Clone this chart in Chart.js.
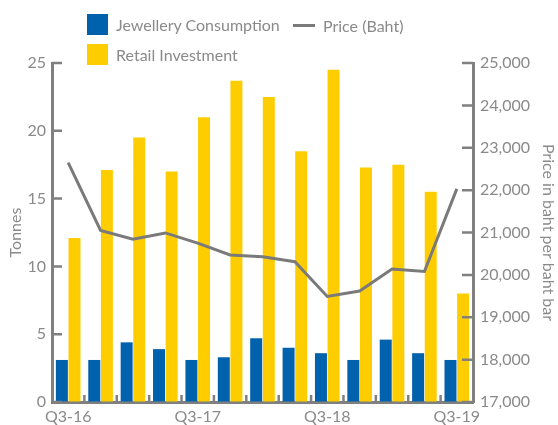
<!DOCTYPE html>
<html>
<head>
<title>Thailand gold demand</title>
<script src="https://cdn.jsdelivr.net/npm/chart.js"></script>
<style>
    body { margin: 0; background: #fff; }
    #wrap { position: relative; width: 558px; height: 425px; font-family: Lato, sans-serif; }
    #legend { position: absolute; left: 0; top: 0; width: 558px; height: 63px; color: #8a8a8a; font-size: 16px; }
    .item { position: absolute; display: flex; align-items: center; height: 22px; }
    .swatch { width: 21px; height: 21px; margin-right: 8px; }
    .dash { width: 22px; height: 3px; margin-right: 8px; }
</style>
</head>
<body>
<div id="wrap">
    <canvas id="myChart" width="558" height="425"></canvas>
    <div id="legend"></div>
</div>

<script>
var quarters = ['Q3-16', 'Q4-16', 'Q1-17', 'Q2-17', 'Q3-17', 'Q4-17', 'Q1-18', 'Q2-18', 'Q3-18', 'Q4-18', 'Q1-19', 'Q2-19', 'Q3-19'];
var jewellery = [3.1, 3.1, 4.4, 3.9, 3.1, 3.3, 4.7, 4.0, 3.6, 3.1, 4.6, 3.6, 3.1];
var retail = [12.1, 17.1, 19.5, 17.0, 21.0, 23.7, 22.5, 18.5, 24.5, 17.3, 17.5, 15.5, 8.0];
var price = [22650, 21050, 20840, 20990, 20750, 20470, 20430, 20310, 19490, 19620, 20140, 20080, 22030];

var blue = '#0062ad';
var yellow = '#fecd00';
var lineGrey = '#7a7a7a';
var axisGrey = '#808080';
var textGrey = '#8a8a8a';
var font = { family: 'Lato', size: 16 };

// short tick marks drawn inward from each axis
var innerTicks = {
    id: 'innerTicks',
    afterDraw: function(chart) {
        var ctx = chart.ctx;
        var area = chart.chartArea;
        var s = chart.scales;
        ctx.save();
        ctx.strokeStyle = axisGrey;
        ctx.lineWidth = 2.5;
        ctx.beginPath();
        s.y.ticks.forEach(function(t, i) {
            var y = s.y.getPixelForTick(i);
            ctx.moveTo(area.left, y);
            ctx.lineTo(area.left + 10, y);
        });
        s.y1.ticks.forEach(function(t, i) {
            var y = s.y1.getPixelForTick(i);
            ctx.moveTo(area.right, y);
            ctx.lineTo(area.right - 11, y);
        });
        for (var i = 1; i < quarters.length; i++) {
            var x = (s.x.getPixelForValue(i - 1) + s.x.getPixelForValue(i)) / 2;
            ctx.moveTo(x, area.bottom);
            ctx.lineTo(x, area.bottom - 7);
        }
        ctx.stroke();
        ctx.restore();
    }
};

var ctx = document.getElementById('myChart').getContext('2d');

var chart = new Chart(ctx, {
    type: 'bar',
    data: {
        labels: quarters,
        datasets: [{
            label: 'Jewellery Consumption',
            data: jewellery,
            backgroundColor: blue,
            yAxisID: 'y',
            order: 1
        }, {
            label: 'Retail Investment',
            data: retail,
            backgroundColor: yellow,
            yAxisID: 'y',
            order: 1
        }, {
            type: 'line',
            label: 'Price (Baht)',
            data: price,
            borderColor: lineGrey,
            borderWidth: 3,
            pointRadius: 0,
            tension: 0,
            yAxisID: 'y1',
            order: 0
        }]
    },
    options: {
        responsive: false,
        animation: false,
        categoryPercentage: 0.78,
        barPercentage: 0.95,
        layout: { padding: { top: 63, left: 0, right: 0, bottom: 0 } },
        plugins: {
            legend: { display: false },
            tooltip: { enabled: false }
        },
        scales: {
            x: {
                z: 1,
                grid: { drawOnChartArea: false, drawTicks: false },
                border: { color: axisGrey, width: 3 },
                ticks: {
                    color: textGrey,
                    font: font,
                    padding: 5,
                    autoSkip: false,
                    maxRotation: 0,
                    callback: function(v, i) { return i % 4 === 0 ? quarters[i] : ''; }
                },
                afterFit: function(scale) { scale.height = 23; }
            },
            y: {
                position: 'left',
                min: 0,
                max: 25,
                z: 1,
                grid: { drawOnChartArea: false, drawTicks: false },
                border: { color: axisGrey, width: 3 },
                ticks: { stepSize: 5, color: textGrey, font: font, padding: 6 },
                title: { display: true, text: 'Tonnes', color: textGrey, font: font, padding: { top: 6, bottom: 0 } },
                afterFit: function(scale) { scale.width = 52; }
            },
            y1: {
                position: 'right',
                min: 17000,
                max: 25000,
                z: 1,
                grid: { drawOnChartArea: false, drawTicks: false },
                border: { color: axisGrey, width: 3 },
                ticks: {
                    stepSize: 1000,
                    color: textGrey,
                    font: font,
                    padding: 7,
                    callback: function(v) { return v.toLocaleString('en-US'); }
                },
                title: { display: true, text: 'Price in baht per baht bar', color: textGrey, font: font, padding: { top: 0, bottom: 2 } },
                afterFit: function(scale) { scale.width = 85; }
            }
        }
    },
    plugins: [innerTicks]
});

// legend laid out in two rows above the plot
var legendPos = [
    { left: 87, top: 13 },
    { left: 87, top: 43 },
    { left: 293, top: 14 }
];
var legend = document.getElementById('legend');
chart.data.datasets.forEach(function(ds, i) {
    var item = document.createElement('div');
    item.className = 'item';
    item.style.left = legendPos[i].left + 'px';
    item.style.top = legendPos[i].top + 'px';
    var mark = document.createElement('span');
    if (ds.type === 'line') {
        mark.className = 'dash';
        mark.style.background = ds.borderColor;
    } else {
        mark.className = 'swatch';
        mark.style.background = ds.backgroundColor;
    }
    item.appendChild(mark);
    item.appendChild(document.createTextNode(ds.label));
    legend.appendChild(item);
});
</script>
</body>
</html>
